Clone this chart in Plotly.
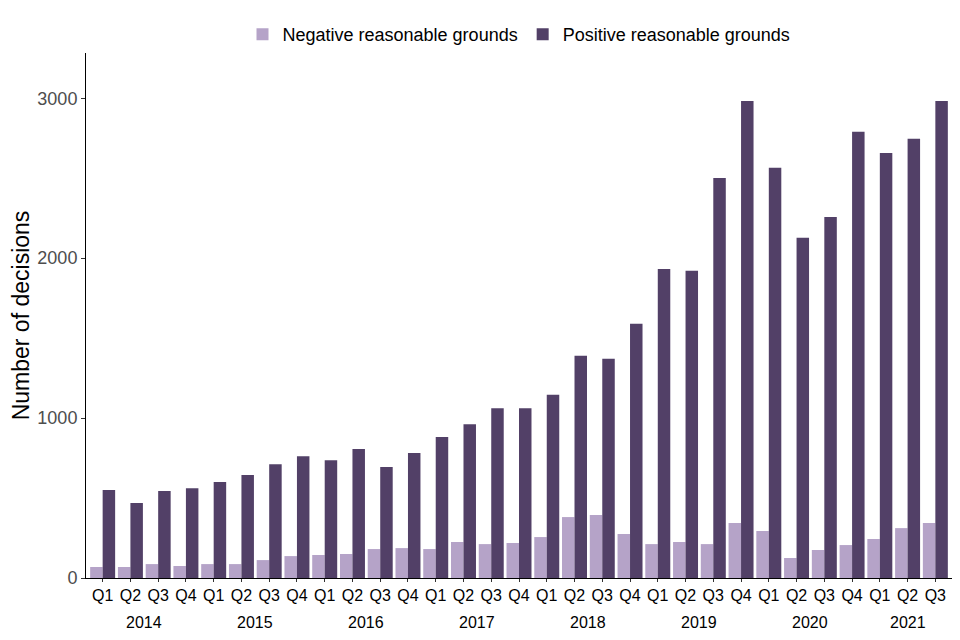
import plotly.graph_objects as go

years = [2014] * 4 + [2015] * 4 + [2016] * 4 + [2017] * 4 + [2018] * 4 + [2019] * 4 + [2020] * 4 + [2021] * 3
quarters = (["Q1", "Q2", "Q3", "Q4"] * 8)[:31]

negative = [69, 69, 87, 75, 87, 87, 112, 137, 144, 150, 181, 187, 181, 225, 212, 219,
            256, 381, 394, 275, 212, 225, 212, 344, 294, 125, 175, 206, 244, 312, 344]
positive = [550, 469, 544, 562, 600, 644, 712, 762, 737, 806, 694, 781, 881, 962, 1062, 1062,
            1146, 1390, 1371, 1590, 1933, 1921, 2502, 2983, 2565, 2127, 2258, 2790, 2658, 2746, 2983]

x = list(range(len(quarters)))

fig = go.Figure()
fig.add_trace(go.Bar(x=x, y=negative, name="Negative reasonable grounds",
                     marker=dict(color="#B5A3C8", line=dict(width=0))))
fig.add_trace(go.Bar(x=x, y=positive, name="Positive reasonable grounds",
                     marker=dict(color="#524067", line=dict(width=0))))

# year labels under the quarters
for yr in sorted(set(years)):
    idx = [i for i, v in enumerate(years) if v == yr]
    fig.add_annotation(x=sum(idx) / len(idx), y=0, xref="x", yref="paper",
                       text=str(yr), showarrow=False, yanchor="top", yshift=-34,
                       font=dict(size=16, color="black", family="Liberation Sans, Arial"))

# page body adds 8px, so the figure is a bit smaller than the window
fig.update_layout(
    width=952, height=632,
    margin=dict(l=78, r=8, t=45, b=62, autoexpand=False),
    barmode="group", bargap=0.1, bargroupgap=0,
    plot_bgcolor="white", paper_bgcolor="white",
    font=dict(family="Liberation Sans, Arial", color="black"),
    showlegend=True,
    legend=dict(orientation="h", x=0.5, xanchor="center", y=1.0, yanchor="bottom",
                font=dict(size=18, color="black"), traceorder="normal",
                itemwidth=30, tracegroupgap=0),
)
fig.update_xaxes(
    tickmode="array", tickvals=x, ticktext=quarters,
    range=[-0.6, len(x) - 0.4],
    showline=True, linecolor="black", linewidth=1,
    ticks="outside", ticklen=3, tickcolor="#333333",
    tickfont=dict(size=16, color="black"),
    showgrid=False, zeroline=False, automargin=False,
)
fig.update_yaxes(
    range=[0, 3283], tickvals=[0, 1000, 2000, 3000],
    showline=True, linecolor="black", linewidth=1,
    ticks="outside", ticklen=4, tickcolor="#333333",
    tickfont=dict(size=18, color="#4D4D4D"),
    title=dict(text="Number of decisions", font=dict(size=23, color="black"), standoff=4),
    showgrid=False, zeroline=False, automargin=False,
)

fig.write_html("out.html")
